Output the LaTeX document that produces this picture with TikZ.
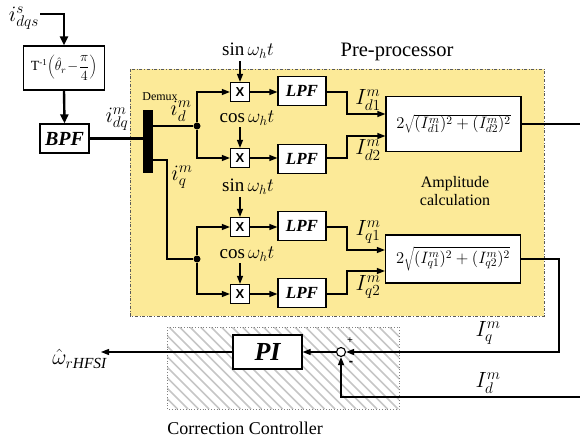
\RequirePackage{fix-cm}
\documentclass[tikz,border=0pt]{standalone}
\usepackage{fontspec}
\setmainfont{Liberation Serif}
\newfontfamily\arialf{Liberation Sans}
\usetikzlibrary{arrows.meta}
\definecolor{yell}{RGB}{252,234,152}
\definecolor{frame}{RGB}{90,90,90}
\newcommand{\fs}[1]{\fontsize{#1}{#1}\selectfont}
\begin{document}
\begin{tikzpicture}[x=1pt,y=-1pt,
  box/.style={draw, line width=1.2pt, fill=white, inner sep=0pt},
  lpf/.style={box, minimum width=48pt, minimum height=29pt, font=\fs{17}\bfseries\itshape},
  mult/.style={box, minimum width=19pt, minimum height=19pt, font=\fs{13}\arialf\bfseries},
  sq/.style={box, minimum width=135pt, font=\fs{16.5}},
  conn/.style={line width=1.2pt},
  arr/.style={conn, -{Triangle[length=8pt,width=6pt]}},
  bigarr/.style={line width=2.4pt, -{Triangle[length=9pt,width=8pt]}},
  dot/.style={circle, fill=black, inner sep=0pt, minimum size=7pt},
  lab/.style={inner sep=0pt, font=\fs{19}},
  mlab/.style={inner sep=0pt, font=\fs{22}},
  hatch/.style={draw=gray!45, line width=1.5pt},
  ]
\useasboundingbox (0,0) rectangle (580,438);

% Pre-processor frame
\path[fill=yell, draw=frame, dash dot, line width=0.8pt] (130,69) rectangle (544,316);
\node[lab, font=\fs{20.5}] (pretxt) at (397,52) {Pre-processor};
\node[lab, font=\fs{16}, align=center] (amptxt) at (455,191) {Amplitude\\[2pt]calculation};

% Correction controller frame (hatched)
\begin{scope}
  \clip (167,327) rectangle (399,409);
  \foreach \k in {0,...,32} {
    \path[hatch] (85+\k*10.5,327) -- (167+\k*10.5,409);
  }
\end{scope}
\path[draw=gray, dotted, line width=0.8pt] (167,327) rectangle (399,409);
\node[lab, font=\fs{18}] (cctxt) at (245,428) {Correction Controller};

% input chain
\coordinate (in) at (40,14);
\node[mlab] (is) at (24,18) {$i_{dqs}^{s}$};
\node[box, minimum width=81pt, minimum height=44pt, font=\fs{14}] (T) at (64,68)
  {$\mathrm{T}^{\hbox{\fs{9}-1}}\!\left(\hat{\theta}_r\!-\!\displaystyle\frac{\pi}{4}\right)$};
\node[box, minimum width=49pt, minimum height=29pt, font=\fs{20}\bfseries\itshape] (bpf) at (64.5,138.5) {BPF};
\draw[bigarr] (in) -| (T.north);
\draw[bigarr] (T.south) -- (bpf.north);

\node[fill=black, minimum width=10pt, minimum height=63pt, inner sep=0pt] (dmx) at (148,141.5) {};
\node[lab, font=\fs{12}] (dmxtxt) at (160,97) {Demux};
\draw[line width=2.4pt] (bpf.east) -- (dmx.west |- bpf.east);
\node[mlab] (idq) at (117,119) {$i_{dq}^{m}$};

% d branch
\node[dot] (d1) at (197,126) {};
\draw[conn] (dmx.east |- d1) -- (d1);
\node[mlab] (idm) at (181,111) {$i_{d}^{m}$};
% q branch
\node[dot] (d2) at (197,259) {};
\coordinate (qa) at (167,160);
\draw[conn] (dmx.east |- qa) -- (qa) |- (d2);
\node[mlab] (iqm) at (182,177) {$i_{q}^{m}$};

% multipliers
\node[mult] (m1) at (240,92) {X};
\node[mult] (m2) at (240,158) {X};
\node[mult] (m3) at (240,227) {X};
\node[mult] (m4) at (240,294) {X};
\node[lab] (s1t) at (248,51) {$\sin\omega_h t$};
\node[lab] (c1t) at (247,118) {$\cos\omega_h t$};
\node[lab] (s2t) at (248,187) {$\sin\omega_h t$};
\node[lab] (c2t) at (247,254) {$\cos\omega_h t$};
\draw[arr] (m1.north |- s1t.south) ++(0,2) -- (m1.north);
\draw[arr] (m2.north |- c1t.south) ++(0,2) -- (m2.north);
\draw[arr] (m3.north |- s2t.south) ++(0,2) -- (m3.north);
\draw[arr] (m4.north |- c2t.south) ++(0,2) -- (m4.north);
\draw[arr] (d1) |- (m1.west);
\draw[arr] (d1) |- (m2.west);
\draw[arr] (d2) |- (m3.west);
\draw[arr] (d2) |- (m4.west);

% LPFs
\node[lpf] (l1) at (302,91) {LPF};
\node[lpf] (l2) at (302,159) {LPF};
\node[lpf] (l3) at (302,226) {LPF};
\node[lpf] (l4) at (302,293) {LPF};
\draw[arr] (m1.east) -- (l1.west |- m1.east);
\draw[arr] (m2.east) -- (l2.west |- m2.east);
\draw[arr] (m3.east) -- (l3.west |- m3.east);
\draw[arr] (m4.east) -- (l4.west |- m4.east);

% amplitude boxes
\node[sq, minimum height=55pt] (sq1) at (453.5,124) {$2\sqrt{(I_{d1}^{m})^2+(I_{d2}^{m})^2}$};
\node[sq, minimum height=48pt] (sq2) at (453,259) {$2\sqrt{(I_{q1}^{m})^2+(I_{q2}^{m})^2}$};
\coordinate (j1) at (347,114);
\coordinate (j2) at (347,136);
\coordinate (j3) at (347,250);
\coordinate (j4) at (347,271);
\draw[arr] (l1.east |- m1) -| (j1) -- (sq1.west |- j1);
\draw[arr] (l2.east |- m2) -| (j2) -- (sq1.west |- j2);
\draw[arr] (l3.east |- m3) -| (j3) -- (sq2.west |- j3);
\draw[arr] (l4.east |- m4) -| (j4) -- (sq2.west |- j4);
\node[mlab] (Id1) at (368,100) {$I_{d1}^{m}$};
\node[mlab] (Id2) at (368,150) {$I_{d2}^{m}$};
\node[mlab] (Iq1) at (368,232) {$I_{q1}^{m}$};
\node[mlab] (Iq2) at (368,287) {$I_{q2}^{m}$};

% outputs
\coordinate (e1) at (580,124);
\draw[conn] (sq1.east) -- (e1);

% correction controller
\node[circle, draw, line width=1.1pt, fill=white, minimum size=9pt, inner sep=0pt] (sum) at (341,352) {};
\node[box, minimum width=69pt, minimum height=34pt, font=\fs{26}\bfseries\itshape] (pi) at (267.5,352) {PI};
\coordinate (qc) at (559,352);
\coordinate (dc) at (580,397);
\draw[arr] (sq2.east) -| (qc) -- (sum.east);
\draw[arr] (dc) -| (sum.south);
\draw[arr] (sum.west) -- (pi.east |- sum);
\coordinate (wo) at (101,352);
\draw[arr] (pi.west |- sum) -- (wo);
\node[lab, font=\fs{10}\arialf] (plus) at (350,341) {+};
\node[lab, font=\fs{13}\arialf\bfseries] (minus) at (351,363) {-};
\node[mlab] (Iq) at (488,333) {$I_{q}^{m}$};
\node[mlab] (Id) at (488,383) {$I_{d}^{m}$};
\node[mlab, anchor=east] (wout) at (107,359) {$\hat{\omega}_{r\mathit{HFSI}}$};
\end{tikzpicture}
\end{document}
